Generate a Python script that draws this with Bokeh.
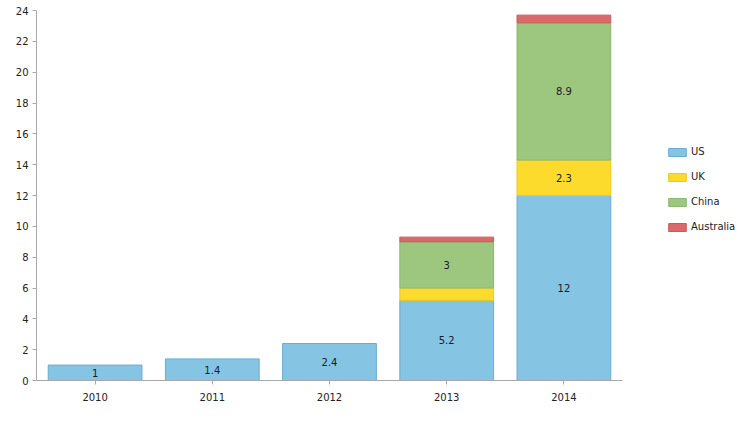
from bokeh.plotting import figure
from bokeh.models import ColumnDataSource, Legend, LegendItem
from bokeh.core.properties import value
from bokeh.embed import file_html
from bokeh.resources import INLINE

years = ["2010", "2011", "2012", "2013", "2014"]
series = ["US", "UK", "China", "Australia"]
us = [1, 1.4, 2.4, 5.2, 12]
uk = [0, 0, 0, 0.8, 2.3]
china = [0, 0, 0, 3, 8.9]
australia = [0, 0, 0, 0.3, 0.5]
y_ticks = list(range(0, 25, 2))

fills = ["#86C4E4", "#FDDB2D", "#9DC77F", "#D96A69"]
lines = ["#6AACD0", "#EBC91E", "#8DB870", "#C85A59"]

FONT = "DejaVu Sans"

p = figure(x_range=years, y_range=(0, 24), frame_width=586, frame_height=370,
           output_backend="svg", toolbar_location=None,
           min_border_left=36, min_border_right=113, min_border_top=10, min_border_bottom=33)

cols = [us, uk, china, australia]
base = [0.0] * len(years)
renderers = []
lx, ly, lt = [], [], []
for name, c, fc, lc in zip(series, cols, fills, lines):
    xs, bots, tops = [], [], []
    for i, yr in enumerate(years):
        v = c[i]
        if v > 0:
            xs.append(yr)
            bots.append(base[i])
            tops.append(base[i] + v)
            if v >= 1:
                lx.append(yr)
                ly.append(base[i] + v / 2)
                lt.append(f"{v:g}")
        base[i] += v
    src = ColumnDataSource(dict(x=xs, bottom=bots, top=tops))
    r = p.vbar(x="x", bottom="bottom", top="top", width=0.8, source=src,
               fill_color=fc, line_color=lc, line_width=1)
    renderers.append(r)

p.text(x=lx, y=ly, text=lt, text_align="center", text_baseline="middle",
       text_font=value(FONT), text_font_size="10px", text_color="#1a1a2a")

legend = Legend(items=[LegendItem(label=s, renderers=[r]) for s, r in zip(series, renderers)],
                location=(44, 148), orientation="vertical")
legend.border_line_color = None
legend.background_fill_alpha = 0
legend.glyph_width = 22
legend.glyph_height = 10
legend.label_text_font = FONT
legend.label_text_font_size = "10px"
legend.label_text_color = "#222222"
legend.spacing = 14
legend.label_standoff = 3
legend.padding = 0
legend.margin = 0
p.add_layout(legend, "right")

p.xgrid.visible = False
p.ygrid.visible = False
p.outline_line_color = None

for ax in (p.xaxis[0], p.yaxis[0]):
    ax.axis_line_color = "#A8A8A8"
    ax.major_tick_line_color = "#A8A8A8"
    ax.minor_tick_line_color = None
    ax.major_label_text_font = FONT
    ax.major_label_text_font_size = "10px"
    ax.major_label_text_color = "#222222"
    ax.major_tick_out = 4
    ax.major_tick_in = 0

p.yaxis.ticker = y_ticks
p.yaxis.major_label_standoff = 4
p.xaxis.major_label_standoff = 8
p.x_range.range_padding = 0

open("out.html", "w").write(file_html(p, INLINE))
